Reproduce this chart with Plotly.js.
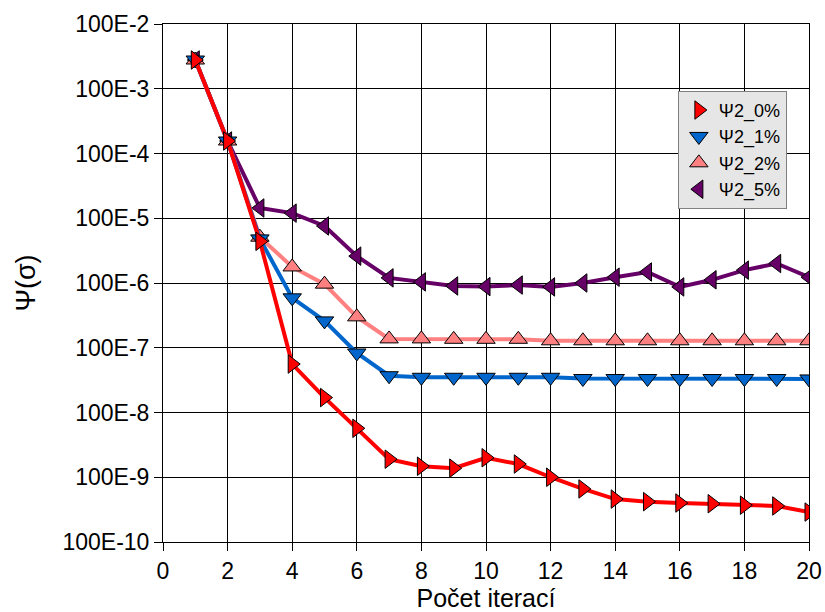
<!DOCTYPE html>
<html>
<head>
<meta charset="utf-8">
<script src="https://cdn.plot.ly/plotly-3.0.1.min.js"></script>
<style>html,body{margin:0;padding:0;background:#fff;}</style>
</head>
<body>
<div id="chart" style="width:825px;height:612px;"></div>
<script>
var iterations = [1,2,3,4,5,6,7,8,9,10,11,12,13,14,15,16,17,18,19,20];
var psi0 = [0.278,0.0156,4.4e-4,5.6e-6,1.7e-6,5.7e-7,1.9e-7,1.48e-7,1.38e-7,2.0e-7,1.6e-7,1.0e-7,6.6e-8,4.6e-8,4.2e-8,4.0e-8,3.9e-8,3.7e-8,3.6e-8,2.9e-8];
var psi1 = [0.278,0.0156,4.8e-4,5.9e-5,2.6e-5,8.3e-6,3.7e-6,3.5e-6,3.5e-6,3.5e-6,3.5e-6,3.5e-6,3.35e-6,3.35e-6,3.35e-6,3.35e-6,3.35e-6,3.35e-6,3.35e-6,3.3e-6];
var psi2 = [0.278,0.0156,5.1e-4,1.77e-4,9.6e-5,3.0e-5,1.37e-5,1.37e-5,1.35e-5,1.35e-5,1.35e-5,1.28e-5,1.28e-5,1.28e-5,1.28e-5,1.28e-5,1.28e-5,1.28e-5,1.28e-5,1.28e-5];
var psi5 = [0.278,0.0156,1.44e-3,1.2e-3,7.6e-4,2.6e-4,1.2e-4,1.04e-4,9.0e-5,8.8e-5,9.3e-5,8.7e-5,1.0e-4,1.23e-4,1.48e-4,8.7e-5,1.12e-4,1.58e-4,2.0e-4,1.23e-4];
var seriesNames = ['Ψ2_0%','Ψ2_1%','Ψ2_2%','Ψ2_5%'];
var yTickVals = [1,1e-1,1e-2,1e-3,1e-4,1e-5,1e-6,1e-7,1e-8];
var yTickText = ['100E-2','100E-3','100E-4','100E-5','100E-6','100E-7','100E-8','100E-9','100E-10'];

function mk(y, name, color, symbol) {
  return [
    {x: iterations, y: y, name: name, type: 'scatter', mode: 'lines', showlegend: false,
     line: {color: color, width: 4}},
    {x: iterations, y: y, name: name, type: 'scatter', mode: 'markers',
     marker: {symbol: symbol, size: 16, color: color, line: {color: '#000', width: 1}}}
  ];
}
var data = [].concat(
  mk(psi5, seriesNames[3], '#660066', 'triangle-left'),
  mk(psi2, seriesNames[2], '#ff8080', 'triangle-up'),
  mk(psi1, seriesNames[1], '#0066cc', 'triangle-down'),
  mk(psi0, seriesNames[0], '#ff0000', 'triangle-right')
);
var layout = {
  width: 825, height: 612,
  margin: {l: 163, r: 16, t: 24, b: 70},
  paper_bgcolor: '#fff', plot_bgcolor: '#fff',
  font: {family: 'Liberation Sans, Arial, sans-serif', color: '#000', size: 23},
  showlegend: true,
  legend: {
    x: 0.797, y: 0.871, xanchor: 'left', yanchor: 'top',
    bgcolor: '#e6e6e6', bordercolor: '#808080', borderwidth: 1,
    font: {size: 18}, traceorder: 'reversed'
  },
  xaxis: {
    range: [0, 20], tick0: 0, dtick: 2, ticks: 'outside', ticklen: 8, tickcolor: '#000',
    showgrid: true, gridcolor: '#000', gridwidth: 1, showline: true, linecolor: '#000', linewidth: 1,
    zeroline: false, mirror: true,
    tickfont: {size: 23},
    title: {text: 'Počet iterací', font: {size: 25}, standoff: 14}
  },
  yaxis: {
    type: 'log', range: [-8, 0], tickmode: 'array', tickvals: yTickVals, ticktext: yTickText,
    ticks: 'outside', ticklen: 8, tickcolor: '#000',
    showgrid: true, gridcolor: '#000', gridwidth: 1, showline: true, linecolor: '#000', linewidth: 1,
    zeroline: false, mirror: true,
    tickfont: {size: 23},
    title: {text: 'Ψ(σ)', font: {size: 27}, standoff: 18}
  }
};
Plotly.newPlot('chart', data, layout, {displayModeBar: false, staticPlot: true});
</script>
</body>
</html>
